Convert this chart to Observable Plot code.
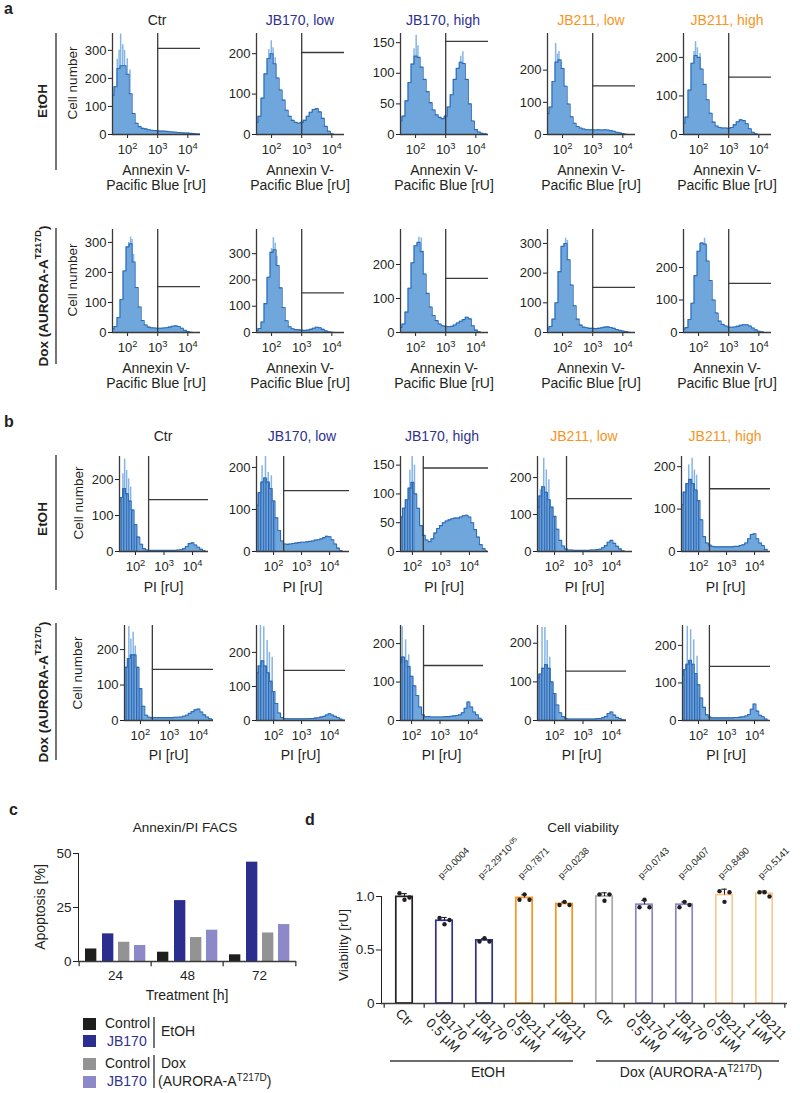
<!DOCTYPE html>
<html><head><meta charset="utf-8">
<script src="https://cdn.jsdelivr.net/npm/d3@7"></script>
<script src="https://cdn.jsdelivr.net/npm/@observablehq/plot@0.6"></script>
<style>
html,body{margin:0;padding:0;background:#fff;}
#root{position:relative;width:800px;height:1093px;overflow:hidden;background:#fff;}
#root svg{position:absolute;max-width:none;}
</style></head><body><div id="root"></div>
<script>
// ================= DATA =================
const treatments = ["Ctr", "JB170, low", "JB170, high", "JB211, low", "JB211, high"];

// log10 bin centres of the FACS histograms
const annexinBinExp = [1.5,1.6,1.7,1.8,1.9,2.0,2.1,2.2,2.3,2.4,2.5,2.6,2.7,2.8,2.9,3.0,3.1,3.2,3.3,3.4,3.5,3.6,3.7,3.8,3.9,4.0,4.1,4.2,4.3,4.4];
const piBinExp = [1.4,1.5,1.6,1.7,1.8,1.9,2.0,2.1,2.2,2.3,2.4,2.5,2.6,2.7,2.8,2.9,3.0,3.1,3.2,3.3,3.4,3.5,3.6,3.7,3.8,3.9,4.0,4.1,4.2,4.3,4.4,4.5,4.6];

// panel a: Annexin V cell counts
const anxEtOH_Ctr       = [140,170,235,245,245,215,145,75,40,28,22,20,17,15,14,13,12,12,11,10,9,8,7,6,5,5,4,3,2,2];
const anxEtOH_JB170low  = [30,45,90,150,188,200,175,140,110,85,60,45,35,30,28,30,35,45,55,62,64,56,40,20,8,2,0,0,0,0];
const anxEtOH_JB170high = [22,30,55,85,115,128,126,110,90,70,52,40,32,28,26,30,45,65,90,108,118,116,90,50,22,8,4,2,1,0];
const anxEtOH_JB211low  = [65,85,165,225,232,205,150,95,55,35,25,20,17,15,15,15,14,15,14,15,14,12,10,7,5,3,1,0,0,0];
const anxEtOH_JB211high = [30,45,115,185,205,200,170,130,90,55,32,22,18,17,17,16,18,25,33,38,36,28,15,6,2,0,0,0,0,0];
const anxDox_Ctr        = [12,20,50,110,205,285,295,235,150,85,40,25,18,16,15,14,14,15,16,18,21,22,20,14,7,3,1,0,0,0];
const anxDox_JB170low   = [8,15,40,110,210,305,315,255,170,95,45,22,14,11,10,9,8,9,12,16,20,18,12,6,3,1,0,0,0,0];
const anxDox_JB170high  = [15,25,60,130,205,255,265,238,172,115,75,50,35,25,20,18,17,18,22,28,33,38,45,40,20,7,2,0,0,0];
const anxDox_JB211low   = [12,20,45,100,205,290,300,245,160,90,45,25,18,16,14,14,13,14,16,18,19,17,14,10,7,5,3,1,0,0];
const anxDox_JB211high  = [10,15,40,90,175,250,275,272,220,160,100,60,35,25,20,17,16,17,19,22,24,24,20,14,8,4,2,0,0,0];

// panel a: single-channel spikes above the envelope [log10 x, count]
const anxEtOH_Ctr_spikes       = [[1.66,268],[1.72,300],[1.77,358],[1.84,320],[1.9,300],[1.99,270],[2.08,230]];
const anxEtOH_JB170low_spikes  = [[1.91,210],[1.99,232],[2.05,215],[2.12,190]];
const anxEtOH_JB170high_spikes = [[1.95,140],[2.02,162],[2.08,145],[3.5,128],[3.57,135]];
const anxEtOH_JB211low_spikes  = [[1.77,283],[1.83,250],[1.88,258],[1.96,225],[2.02,205]];
const anxEtOH_JB211high_spikes = [[1.85,215],[1.9,241],[1.96,225],[2.05,210]];
const anxDox_Ctr_spikes        = [[2.04,300],[2.1,318],[2.15,310],[2.2,260]];
const anxDox_JB170low_spikes   = [[2.0,320],[2.06,361],[2.12,340],[2.18,290]];
const anxDox_JB170high_spikes  = [[2.05,262],[2.11,280],[2.19,278],[2.25,240]];
const anxDox_JB211low_spikes   = [[1.5,73],[2.05,300],[2.1,318],[2.16,310]];
const anxDox_JB211high_spikes  = [[1.5,41],[2.13,277],[2.2,290],[2.26,270]];

// panel b: PI cell counts
const piEtOH_Ctr       = [140,150,175,160,140,115,75,40,20,8,4,3,3,3,3,3,3,3,3,3,3,4,5,8,14,22,24,18,12,6,2,0,0];
const piEtOH_JB170low  = [110,140,165,175,165,150,120,80,50,25,18,17,18,19,20,21,22,22,23,24,25,27,28,30,33,36,35,28,18,8,2,0,0];
const piEtOH_JB170high = [50,55,60,75,90,110,120,100,75,45,28,20,17,22,32,40,45,50,53,55,57,58,58,60,62,63,60,50,38,25,12,5,1];
const piEtOH_JB211low  = [120,150,175,160,140,120,95,60,30,15,7,4,4,3,3,3,3,3,3,4,4,5,6,10,16,25,30,22,14,7,2,0,0];
const piEtOH_JB211high = [110,140,160,170,160,145,120,75,35,20,15,12,11,11,11,11,11,11,11,12,12,14,16,20,30,40,42,30,20,14,5,0,0];
const piDox_Ctr        = [145,150,175,185,185,150,90,40,15,9,8,8,8,8,8,8,8,8,9,9,10,12,15,20,25,30,32,24,16,10,5,2,0];
const piDox_JB170low   = [140,160,175,160,140,115,85,50,22,9,6,5,5,5,5,5,5,5,5,6,6,7,8,10,12,16,20,16,12,9,4,1,0];
const piDox_JB170high  = [120,130,150,165,155,140,115,90,65,35,15,10,10,9,9,9,9,9,10,10,11,12,13,15,20,32,48,35,22,15,6,1,0];
const piDox_JB211low   = [110,120,135,145,135,100,70,40,20,10,5,4,4,4,4,4,4,4,4,4,4,5,5,7,10,18,22,14,8,5,2,1,0];
const piDox_JB211high  = [120,135,150,160,150,125,95,60,35,15,9,7,7,7,7,7,7,7,7,8,8,9,10,12,16,30,44,25,14,10,4,0,0];

// panel b: spikes [log10 x, count]
const piEtOH_Ctr_spikes       = [[1.56,216],[1.62,257],[1.69,225],[1.76,202],[1.83,179]];
const piEtOH_JB170low_spikes  = [[1.59,204],[1.71,228],[1.81,188],[1.92,180]];
const piEtOH_JB170high_spikes = [[1.91,141],[1.99,167],[2.07,150]];
const piEtOH_JB211low_spikes  = [[1.5,167],[1.62,252],[1.71,221],[1.8,194]];
const piEtOH_JB211high_spikes = [[1.65,204],[1.77,220],[1.85,192],[1.93,180]];
const piDox_Ctr_spikes        = [[1.6,265],[1.67,230],[1.75,249],[1.82,210]];
const piDox_JB170low_spikes   = [[1.53,279],[1.65,275],[1.77,235],[1.85,200],[1.95,186]];
const piDox_JB170high_spikes  = [[1.67,244],[1.79,210],[1.9,171]];
const piDox_JB211low_spikes   = [[1.56,241],[1.66,241],[1.74,207],[1.83,164]];
const piDox_JB211high_spikes  = [[1.6,251],[1.72,242],[1.83,215],[1.95,171]];

// gates (x threshold as log10, y level in cells)
const annexinGateExp = 3;
const annexinGateEtOH = [307,203,152,151,149];
const annexinGateDox  = [153,151,159,152,151];
const piGateExpEtOH = [2.46,2.36,2.38,2.42,2.39];
const piGateExpDox  = [2.41,2.36,2.42,2.39,2.39];
const piGateEtOH = [144,145,145,143,148];
const piGateDox  = [144,147,143,128,144];

// y-axis extents and ticks
const annexinYMaxEtOH = [360,250,165,314,262];
const annexinYMaxDox  = [343,392,303,347,317];
const piYMaxEtOH = [264,226,165,257,224];
const piYMaxDox  = [268,279,247,246,253];
const ticks3 = [0,100,200,300], ticks2 = [0,100,200], ticks50 = [0,50,100,150];
const annexinTicksEtOH = [ticks3, ticks2, ticks50, ticks2, ticks2];
const annexinTicksDox  = [ticks3, ticks3, ticks2, ticks3, ticks2];
const piTicksEtOH = [ticks2, ticks2, ticks50, ticks2, ticks2];
const piTicksDox  = [ticks2, ticks2, ticks2, ticks2, ticks2];

// panel c: apoptosis %
const cTimes = ["24","48","72"];
const cControlEtOH = [5.8,4.3,3.1];
const cJB170EtOH   = [12.8,28.2,46.0];
const cControlDox  = [8.9,11.1,13.2];
const cJB170Dox    = [7.4,14.5,17.1];

// panel d: viability
const dKeys = ["EtOH Ctr","EtOH JB170 0.5","EtOH JB170 1","EtOH JB211 0.5","EtOH JB211 1","Dox Ctr","Dox JB170 0.5","Dox JB170 1","Dox JB211 0.5","Dox JB211 1"];
const dTickLabels = ["Ctr","JB170\n0.5 µM","JB170\n1 µM","JB211\n0.5 µM","JB211\n1 µM","Ctr","JB170\n0.5 µM","JB170\n1 µM","JB211\n0.5 µM","JB211\n1 µM"];
const dRep1 = [1.03,0.80,0.58,0.97,0.92,1.02,0.90,0.90,1.05,1.04];
const dRep2 = [0.97,0.74,0.61,1.02,0.95,0.96,0.97,0.95,0.95,1.04];
const dRep3 = [0.99,0.78,0.58,0.97,0.92,1.02,0.90,0.92,1.04,1.00];
const dPvals = ["","0.0004","2.29*10^-05","0.7871","0.0238","","0.0743","0.0407","0.8490","0.5141"];

// ================= STYLE =================
const FONT = "'Liberation Sans', Arial, Helvetica, sans-serif";
const INK = "#231f20";
const AXIS = "#3a3a3a";
const HIST_FILL = "#6fa6dc";
const HIST_LINE = "#2b6bb9";
const HIST_SPIKE = "#86b5e5";
const NAVY = "#2e3192", ORANGE = "#f7941d";
const TITLE_COLORS = [INK, NAVY, NAVY, ORANGE, ORANGE];
const C_COLORS = ["#1e1e1e", "#2b2e8f", "#939393", "#8d88c8"];
const D_COLORS = {"EtOH Ctr":"#231f20","EtOH JB170 0.5":NAVY,"EtOH JB170 1":NAVY,"EtOH JB211 0.5":ORANGE,"EtOH JB211 1":ORANGE,
  "Dox Ctr":"#a7a9ac","Dox JB170 0.5":"#8c86c6","Dox JB170 1":"#8c86c6","Dox JB211 0.5":"#fbc98e","Dox JB211 1":"#fbc98e"};

// ================= LAYOUT =================
const A_LEFT = [112,256,400,547,683], A_W = 88, A_LO = 1.5, A_HI = 4.42;
const A_ROWS = [{top:33, h:101}, {top:229, h:103}];
const B_ROWS = [
  {top:456, h:95, left:[119,256,400,537,681], right:[208,349,488,632,770], lo:[1.44,1.39,1.58,1.40,1.39], hi:[4.56,4.71,4.67,4.74,4.57]},
  {top:625, h:95, left:[124,256,400,537,682], right:[213,345,483,626,770], lo:[1.45,1.39,1.61,1.40,1.43], hi:[4.52,4.57,4.53,4.53,4.57]}
];

// ================= HELPERS =================
const root = document.getElementById("root");
const NS = "http://www.w3.org/2000/svg";

// stripe pattern used for the low-PI channels
{
  const defs = document.createElementNS(NS, "svg");
  defs.setAttribute("width", 0); defs.setAttribute("height", 0);
  defs.innerHTML = `<defs><pattern id="piStripes" patternUnits="userSpaceOnUse" width="2.6" height="10">
    <rect x="0" y="0" width="1.2" height="10" fill="#2c64b2"/></pattern></defs>`;
  root.appendChild(defs);
}

function rich(el, s) {
  el.textContent = "";
  const re = /\^\{([^}]*)\}|\^([^\s)]+)/g;
  let last = 0, m;
  while ((m = re.exec(s))) {
    if (m.index > last) el.appendChild(document.createTextNode(s.slice(last, m.index)));
    const t = document.createElementNS(NS, "tspan");
    t.setAttribute("baseline-shift", "super");
    t.style.fontSize = "72%";
    t.textContent = m[1] !== undefined ? m[1] : m[2];
    el.appendChild(t);
    last = re.lastIndex;
  }
  if (last < s.length) el.appendChild(document.createTextNode(s.slice(last)));
}
function supify(svg) {
  svg.querySelectorAll("text, tspan").forEach(el => {
    if ([...el.childNodes].every(n => n.nodeType === 3) && el.textContent.includes("^")) rich(el, el.textContent);
  });
}
function place(svg, left, top) {
  supify(svg);
  svg.style.left = left + "px";
  svg.style.top = top + "px";
  root.appendChild(svg);
}
const baseStyle = size => ({fontFamily: FONT, fontSize: size + "px", color: INK, background: "transparent", overflow: "visible"});

function histogram({left, top, w, h, lo, hi, ymax, yticks, exps, counts, spikes, stripesUpTo, gateExp, gateY}) {
  const ML = 40, MR = 6, MT = 6, MB = 32;
  const data = exps.map((e, i) => ({x: 10 ** e, y: counts[i]}));
  const spk = spikes.map(([e, v]) => ({x: 10 ** e, y: v}));
  const marks = [
    Plot.ruleX(spk, {x: "x", y1: d => 0, y2: "y", stroke: HIST_SPIKE, strokeWidth: 1.5, clip: true}),
    Plot.areaY(data, {x: "x", y: "y", curve: "step", fill: HIST_FILL, clip: true})
  ];
  if (stripesUpTo) marks.push(Plot.areaY(data.filter(d => d.x <= 10 ** stripesUpTo), {x: "x", y: "y", curve: "step", fill: "url(#piStripes)", clip: true}));
  marks.push(
    Plot.lineY(data, {x: "x", y: "y", curve: "step", stroke: HIST_LINE, strokeWidth: 1.1, clip: true}),
    Plot.ruleY([0], {stroke: AXIS, strokeWidth: 1.3}),
    Plot.ruleX([10 ** lo], {stroke: AXIS, strokeWidth: 1.3}),
    Plot.ruleX([10 ** gateExp], {stroke: AXIS, strokeWidth: 1.3}),
    Plot.ruleY([{y: gateY, x1: 10 ** gateExp, x2: 10 ** hi}], {y: "y", x1: "x1", x2: "x2", stroke: AXIS, strokeWidth: 1.3})
  );
  const svg = Plot.plot({
    width: ML + w + MR, height: MT + h + MB,
    marginLeft: ML, marginRight: MR, marginTop: MT, marginBottom: MB,
    style: baseStyle(13),
    x: {type: "log", domain: [10 ** lo, 10 ** hi], ticks: [100, 1000, 10000],
        tickFormat: d => "10^" + Math.round(Math.log10(d)), tickSize: 4, tickPadding: 6, label: null},
    y: {domain: [0, ymax], ticks: yticks, tickSize: 4, tickPadding: 2, label: null},
    marks
  });
  place(svg, left - ML, top - MT);
}

// ================= PANEL a =================
const annexinRows = [
  {series: [anxEtOH_Ctr, anxEtOH_JB170low, anxEtOH_JB170high, anxEtOH_JB211low, anxEtOH_JB211high],
   spikes: [anxEtOH_Ctr_spikes, anxEtOH_JB170low_spikes, anxEtOH_JB170high_spikes, anxEtOH_JB211low_spikes, anxEtOH_JB211high_spikes],
   ymax: annexinYMaxEtOH, ticks: annexinTicksEtOH, gate: annexinGateEtOH},
  {series: [anxDox_Ctr, anxDox_JB170low, anxDox_JB170high, anxDox_JB211low, anxDox_JB211high],
   spikes: [anxDox_Ctr_spikes, anxDox_JB170low_spikes, anxDox_JB170high_spikes, anxDox_JB211low_spikes, anxDox_JB211high_spikes],
   ymax: annexinYMaxDox, ticks: annexinTicksDox, gate: annexinGateDox}
];
annexinRows.forEach((row, r) => {
  row.series.forEach((counts, i) => histogram({
    left: A_LEFT[i], top: A_ROWS[r].top, w: A_W, h: A_ROWS[r].h, lo: A_LO, hi: A_HI,
    ymax: row.ymax[i], yticks: row.ticks[i], exps: annexinBinExp, counts, spikes: row.spikes[i],
    gateExp: annexinGateExp, gateY: row.gate[i]
  }));
});

// ================= PANEL b =================
const piRows = [
  {series: [piEtOH_Ctr, piEtOH_JB170low, piEtOH_JB170high, piEtOH_JB211low, piEtOH_JB211high],
   spikes: [piEtOH_Ctr_spikes, piEtOH_JB170low_spikes, piEtOH_JB170high_spikes, piEtOH_JB211low_spikes, piEtOH_JB211high_spikes],
   ymax: piYMaxEtOH, ticks: piTicksEtOH, gate: piGateEtOH, gateExp: piGateExpEtOH},
  {series: [piDox_Ctr, piDox_JB170low, piDox_JB170high, piDox_JB211low, piDox_JB211high],
   spikes: [piDox_Ctr_spikes, piDox_JB170low_spikes, piDox_JB170high_spikes, piDox_JB211low_spikes, piDox_JB211high_spikes],
   ymax: piYMaxDox, ticks: piTicksDox, gate: piGateDox, gateExp: piGateExpDox}
];
piRows.forEach((row, r) => {
  const L = B_ROWS[r];
  row.series.forEach((counts, i) => histogram({
    left: L.left[i], top: L.top, w: L.right[i] - L.left[i], h: L.h, lo: L.lo[i], hi: L.hi[i],
    ymax: row.ymax[i], yticks: row.ticks[i], exps: piBinExp, counts, spikes: row.spikes[i], stripesUpTo: 2.1,
    gateExp: row.gateExp[i], gateY: row.gate[i]
  }));
});

// ================= PANEL c =================
{
  const ML = 40, MR = 10, MT = 10, MB = 40, W = 218, H = 108;
  const band = W / cTimes.length, barW = 12, offsets = [6, 23, 39, 55];
  const seriesVals = [cControlEtOH, cJB170EtOH, cControlDox, cJB170Dox];
  const marks = seriesVals.map((vals, s) => Plot.barY(cTimes.map((t, i) => ({t, v: vals[i]})), {
    x: "t", y: "v", fill: C_COLORS[s], insetLeft: offsets[s], insetRight: band - offsets[s] - barW
  }));
  marks.push(
    Plot.ruleY([0], {stroke: AXIS, strokeWidth: 1.3}),
    Plot.ruleX(cTimes, {x: d => d, y1: d => 0, y2: d => -2.4, dx: -band / 2, stroke: AXIS, strokeWidth: 1.3}),
    Plot.ruleX([cTimes[cTimes.length - 1]], {x: d => d, y1: d => 0, y2: d => -2.4, dx: band / 2, stroke: AXIS, strokeWidth: 1.3})
  );
  const svg = Plot.plot({
    width: ML + W + MR, height: MT + H + MB, marginLeft: ML, marginRight: MR, marginTop: MT, marginBottom: MB,
    style: baseStyle(13.5),
    x: {domain: cTimes, padding: 0, tickSize: 0, tickPadding: 9, label: null},
    y: {domain: [0, 50], ticks: [0, 25, 50], tickSize: 5, tickPadding: 2, label: null, line: true},
    marks
  });
  place(svg, 78 - ML, 853 - MT);
}

// ================= PANEL d =================
{
  const ML = 40, MR = 10, MT = 62, MB = 70, W = 406, H = 107;
  const band = W / dKeys.length, barW = 17;
  const rows = dKeys.map((k, i) => ({k, reps: [dRep1[i], dRep2[i], dRep3[i]], label: dTickLabels[i], p: dPvals[i]}));
  const stats = rows.map(r => ({k: r.k, mean: d3.mean(r.reps), sd: d3.deviation(r.reps)}));
  const dotDx = [-5, 0, 5];
  const labelOf = Object.fromEntries(rows.map(r => [r.k, r.label]));
  const marks = [
    Plot.barY(stats, {x: "k", y: "mean", fill: "white", stroke: d => D_COLORS[d.k], strokeWidth: 1.7,
      insetLeft: (band - barW) / 2, insetRight: (band - barW) / 2}),
    Plot.ruleX(stats, {x: "k", y1: "mean", y2: d => d.mean + d.sd, stroke: INK, strokeWidth: 1.1}),
    Plot.tickY(stats, {x: "k", y: d => d.mean + d.sd, stroke: INK, strokeWidth: 1.1, insetLeft: band / 2 - 3, insetRight: band / 2 - 3}),
    ...dotDx.map((dx, j) => Plot.dot(rows, {x: "k", y: d => d.reps[j], r: 2.2, fill: INK, stroke: "none", dx})),
    Plot.text(rows.filter(r => r.p), {x: "k", y: d => 1.18, text: d => "p=" + d.p, rotate: -45, textAnchor: "start", fontSize: 9.5, dx: -5, fill: INK}),
    Plot.ruleY([0], {stroke: AXIS, strokeWidth: 1.3}),
    Plot.ruleX(dKeys, {x: d => d, y1: d => 0, y2: d => -0.045, dx: -band / 2, stroke: AXIS, strokeWidth: 1.3}),
    Plot.ruleX([dKeys[dKeys.length - 1]], {x: d => d, y1: d => 0, y2: d => -0.045, dx: band / 2, stroke: AXIS, strokeWidth: 1.3})
  ];
  const xOpts = {domain: dKeys, padding: 0, label: null};
  if (Plot.axisX) {
    marks.push(Plot.axisX({tickRotate: 45, tickSize: 0, tickPadding: 4, tickFormat: k => labelOf[k], lineAnchor: "top", textAnchor: "start", dx: -3, fill: INK}));
  } else {
    Object.assign(xOpts, {tickRotate: 45, tickSize: 0, tickFormat: k => labelOf[k]});
  }
  const svg = Plot.plot({
    width: ML + W + MR, height: MT + H + MB, marginLeft: ML, marginRight: MR, marginTop: MT, marginBottom: MB,
    style: baseStyle(13.5),
    x: xOpts,
    y: {domain: [0, 1], ticks: [0, 0.5, 1], tickFormat: d => d === 0 ? "0" : d.toFixed(1), tickSize: 5, tickPadding: 2, label: null, line: true},
    marks
  });
  place(svg, 381 - ML, 896 - MT);
}

// ================= OVERLAY TEXT =================
const ov = document.createElementNS(NS, "svg");
ov.setAttribute("width", 800); ov.setAttribute("height", 1093);
ov.setAttribute("font-family", FONT);
ov.style.left = "0px"; ov.style.top = "0px"; ov.style.pointerEvents = "none";
root.appendChild(ov);
function T(x, y, s, o = {}) {
  const t = document.createElementNS(NS, "text");
  t.setAttribute("x", x); t.setAttribute("y", y);
  t.setAttribute("text-anchor", o.anchor || "middle");
  if (o.central) t.setAttribute("dominant-baseline", "central");
  t.setAttribute("font-size", o.size || 13.5);
  t.setAttribute("font-weight", o.weight || 400);
  t.setAttribute("fill", o.fill || INK);
  if (o.rotate) t.setAttribute("transform", `rotate(${o.rotate},${x},${y})`);
  rich(t, s);
  ov.appendChild(t);
}
function L(x1, y1, x2, y2, w = 1.4, c = AXIS) {
  const l = document.createElementNS(NS, "line");
  l.setAttribute("x1", x1); l.setAttribute("y1", y1); l.setAttribute("x2", x2); l.setAttribute("y2", y2);
  l.setAttribute("stroke", c); l.setAttribute("stroke-width", w);
  ov.appendChild(l);
}
function R(x, y, w, h, c) {
  const r = document.createElementNS(NS, "rect");
  r.setAttribute("x", x); r.setAttribute("y", y); r.setAttribute("width", w); r.setAttribute("height", h); r.setAttribute("fill", c);
  ov.appendChild(r);
}

// panel letters
T(4, 14, "a", {anchor: "start", size: 16, weight: 700});
T(4, 427, "b", {anchor: "start", size: 16, weight: 700});
T(9, 815, "c", {anchor: "start", size: 16, weight: 700});
T(305, 825, "d", {anchor: "start", size: 16, weight: 700});

// titles
const aTitleX = [157, 300, 443, 591, 727];
const bTitleX = [163, 302, 442, 584, 725];
treatments.forEach((s, i) => {
  T(aTitleX[i], 25, s, {size: 14, fill: TITLE_COLORS[i]});
  T(bTitleX[i], 441, s, {size: 14, fill: TITLE_COLORS[i]});
});
// x-axis labels
A_LEFT.forEach(l => {
  const cx = l + A_W / 2;
  T(cx, 175, "Annexin V-", {size: 14}); T(cx, 190, "Pacific Blue [rU]", {size: 14});
  T(cx, 373, "Annexin V-", {size: 14}); T(cx, 388, "Pacific Blue [rU]", {size: 14});
});
B_ROWS.forEach((row, r) => row.left.forEach((l, i) => T((l + row.right[i]) / 2, r === 0 ? 592 : 760, "PI [rU]", {size: 14})));
// y labels
T(72.5, 83, "Cell number", {rotate: -90, central: true});
T(72.5, 280, "Cell number", {rotate: -90, central: true});
T(78, 503, "Cell number", {rotate: -90, central: true});
T(77, 673, "Cell number", {rotate: -90, central: true});
// row labels
T(42, 101, "EtOH", {rotate: -90, central: true, weight: 700});
T(43, 296, "Dox (AURORA-A^{T217D})", {rotate: -90, central: true, weight: 700});
T(42, 519, "EtOH", {rotate: -90, central: true, weight: 700});
T(43, 692, "Dox (AURORA-A^{T217D})", {rotate: -90, central: true, weight: 700});
L(56, 33, 56, 170); L(56, 228, 56, 364); L(56, 455, 56, 590); L(56, 623, 56, 760);

// panel c texts + legend
T(185, 832, "Annexin/PI FACS");
T(187, 1000, "Treatment [h]", {size: 14});
T(40, 907, "Apoptosis [%]", {rotate: -90, central: true, size: 14});
R(83, 1018, 13, 12, C_COLORS[0]); R(83, 1035, 13, 12, C_COLORS[1]);
R(83, 1058, 13, 12, C_COLORS[2]); R(83, 1076, 13, 12, C_COLORS[3]);
T(105, 1028, "Control", {anchor: "start", size: 14});
T(107, 1046, "JB170", {anchor: "start", fill: NAVY, size: 14});
T(105, 1068, "Control", {anchor: "start", size: 14});
T(107, 1086, "JB170", {anchor: "start", fill: NAVY, size: 14});
L(154, 1017, 154, 1048); L(154, 1055, 154, 1088);
T(161, 1036, "EtOH", {anchor: "start", size: 14});
T(161, 1068, "Dox", {anchor: "start", size: 14});
T(158, 1086, "(AURORA-A^{T217D})", {anchor: "start", size: 14});

// panel d texts
T(583, 832, "Cell viability");
T(343, 945, "Viability [rU]", {rotate: -90, central: true});
L(390, 1061, 573, 1061); L(596, 1061, 779, 1061);
T(488, 1077, "EtOH", {size: 14});
T(691, 1077, "Dox (AURORA-A^{T217D})", {size: 14});
</script></body></html>
